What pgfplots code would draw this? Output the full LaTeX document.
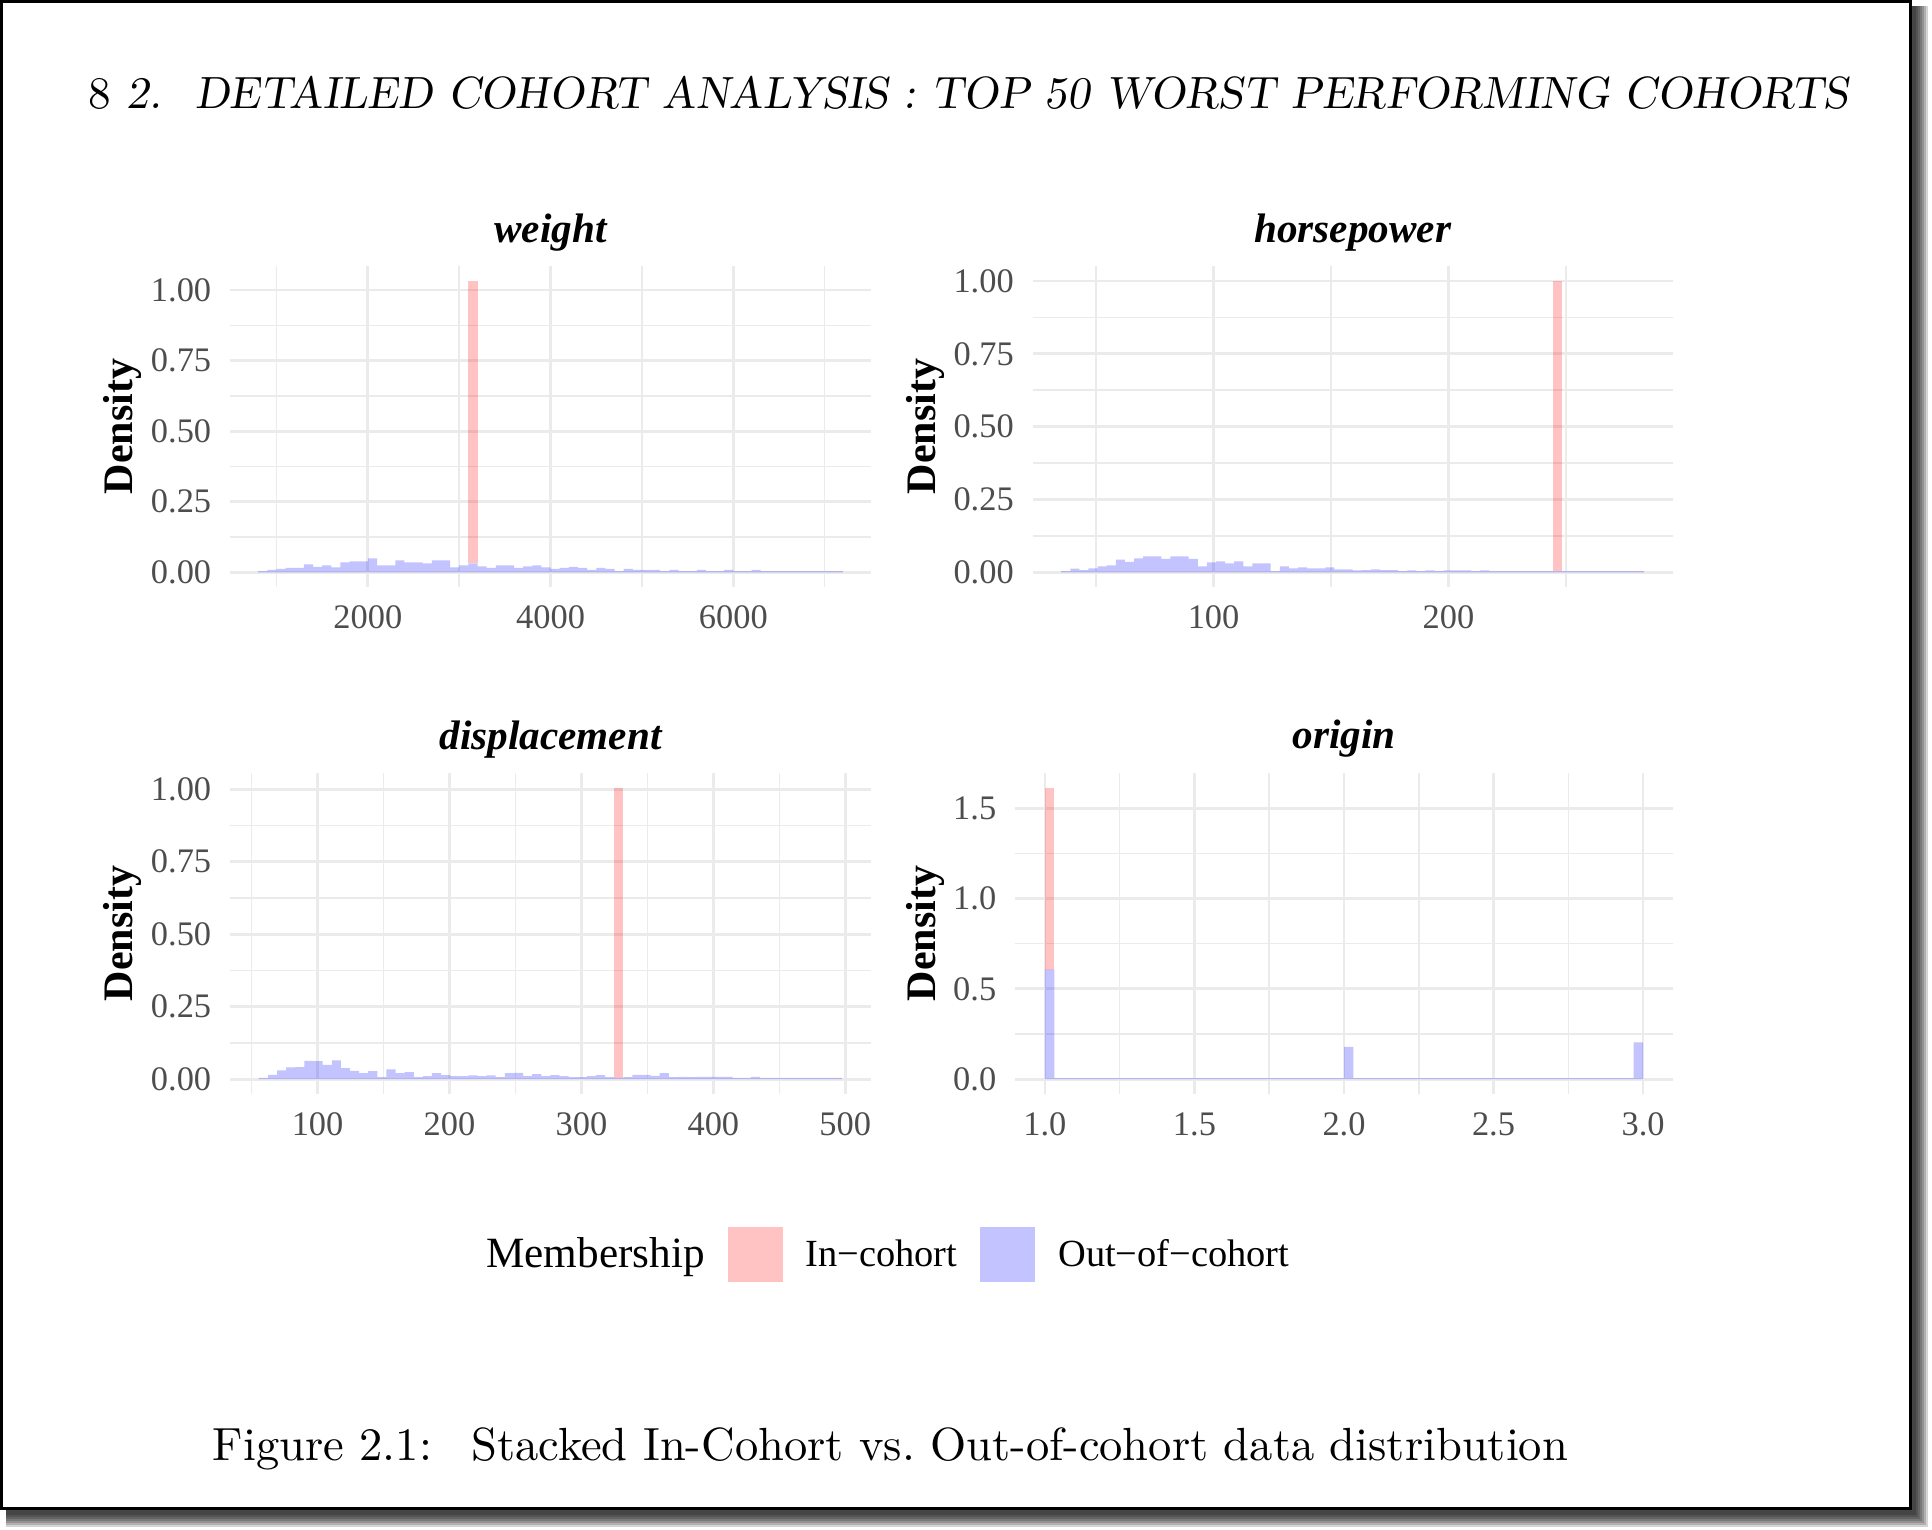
\documentclass[border=0pt]{standalone}
\usepackage{pgfplots}
\pgfplotsset{compat=1.18}
\usepackage{fontspec}
\usepackage{graphicx}
\newfontfamily\lib{Liberation Serif}
\definecolor{grid92}{RGB}{235,235,235}
\definecolor{tickgray}{RGB}{77,77,77}

\pgfplotsset{
  panel/.style={
    scale only axis,
    anchor=north west,
    axis line style={draw=none},
    tick style={draw=none},
    major tick length=0pt, minor tick length=0pt,
    grid=both,
    major grid style={grid92, line width=0.7pt},
    minor grid style={grid92, line width=0.37pt},
    every tick label/.append style={inner sep=0pt, text=tickgray, font=\lib\fontsize{8.6}{10}\selectfont},
    xticklabel style={anchor=north, yshift=-4.5pt},
    yticklabel style={anchor=east, xshift=-4.5pt},
    title style={at={(0.5,1)}, anchor=base, yshift=0pt, inner sep=0pt,
      font=\lib\fontsize{10.3}{12}\selectfont\bfseries\itshape},
    ylabel={Density},
  },
  dens/.style={every axis y label/.style={at={(axis description cs:0,0.5)}, xshift=-#1,
      rotate=90, anchor=base, inner sep=0pt, font=\lib\fontsize{10.5}{12}\selectfont\bfseries}},
  outbar/.style={ybar interval, fill=blue, fill opacity=0.235, draw=none, forget plot},
  inbar/.style={fill=red, fill opacity=0.235, draw=none, forget plot},
}

\begin{document}
\begin{tikzpicture}
% page, frame and shadow (1 px = 0.25pt)
\begin{scope}[x=0.25pt,y=-0.25pt]
  \fill[white] (0,0) rectangle (1932,1530);
  \foreach \r in {10,8,6,4,2,0,-2}
    \fill[black,fill opacity=0.17] (6,6) rectangle ({1918+\r},{1517+\r});
  \fill[white] (0,0) rectangle (1910,1509);
  \draw[black,line width=0.75pt] (1.5,1.5) rectangle (1910,1508.5);
  \node[anchor=base west, inner sep=0pt] at (88,108.3)
    {\resizebox{440pt}{!}{8 {\slshape 2.\hspace{0.75em}DETAILED COHORT ANALYSIS : TOP 50 WORST PERFORMING COHORTS}}};
  \node[anchor=base west, inner sep=0pt] at (212,1460.7)
    {\resizebox{338.8pt}{!}{Figure 2.1:\hspace{0.85em}Stacked In-Cohort vs.\ Out-of-cohort data distribution}};
\end{scope}

% ---------------- weight ----------------
\begin{axis}[panel, dens=24.3pt,
  at={(57.5pt,-66.6pt)}, width=160.25pt, height=80.125pt,
  title={weight},
  xmin=491, xmax=7507, ymin=-0.0516, ymax=1.0836,
  xtick={2000,4000,6000}, xticklabels={2000,4000,6000},
  minor xtick={1000,3000,5000,7000},
  ytick={0,0.25,0.5,0.75,1}, yticklabels={0.00,0.25,0.50,0.75,1.00},
  minor ytick={0.125,0.375,0.625,0.875},
]
\addplot[outbar] table {
x y
800 0.0047
900 0.0083
1000 0.0118
1100 0.0154
1200 0.0154
1300 0.0284
1400 0.0189
1500 0.0248
1600 0.0177
1700 0.0355
1800 0.0390
1900 0.0390
2000 0.0496
2100 0.0248
2200 0.0248
2300 0.0426
2400 0.0355
2500 0.0355
2600 0.0319
2700 0.0426
2800 0.0426
2900 0.0177
3000 0.0248
3100 0.0319
3200 0.0213
3300 0.0154
3400 0.0248
3500 0.0248
3600 0.0154
3700 0.0213
3800 0.0248
3900 0.0177
4000 0.0118
4100 0.0154
4200 0.0189
4300 0.0154
4400 0.0083
4500 0.0154
4600 0.0118
4700 0.0047
4800 0.0118
4900 0.0083
5000 0.0083
5100 0.0083
5200 0.0047
5300 0.0083
5400 0.0040
5500 0.0047
5600 0.0083
5700 0.0040
5800 0.0047
5900 0.0083
6000 0.0047
6100 0.0047
6200 0.0083
6300 0.0040
6400 0.0047
6500 0.0040
6600 0.0040
6700 0.0040
6800 0.0040
6900 0.0040
7000 0.0040
7100 0.0040
7200 0.0040
};
\addplot[inbar] coordinates {(3100,0.0319) (3200,0.0319) (3200,1.032) (3100,1.032)} -- cycle;
\end{axis}

% ---------------- horsepower ----------------
\begin{axis}[panel, dens=24.25pt,
  at={(258.125pt,-66.6pt)}, width=160.125pt, height=80.125pt,
  title={horsepower},
  xmin=22.9, xmax=295.6, ymin=-0.05, ymax=1.05,
  xtick={100,200}, xticklabels={100,200},
  minor xtick={50,150,250},
  ytick={0,0.25,0.5,0.75,1}, yticklabels={0.00,0.25,0.50,0.75,1.00},
  minor ytick={0.125,0.375,0.625,0.875},
]
\addplot[outbar] table {
x y
35.10 0.0040
38.98 0.0126
42.86 0.0080
46.73 0.0137
50.61 0.0206
54.49 0.0240
58.37 0.0435
62.25 0.0355
66.12 0.0480
70.00 0.0550
73.88 0.0550
77.76 0.0458
81.64 0.0550
85.51 0.0550
89.39 0.0458
93.27 0.0206
97.15 0.0344
101.03 0.0378
104.90 0.0309
108.78 0.0378
112.66 0.0206
116.54 0.0309
120.42 0.0309
124.29 0.0040
128.17 0.0206
132.05 0.0137
135.93 0.0172
139.81 0.0137
143.68 0.0137
147.56 0.0172
151.44 0.0103
155.32 0.0103
159.20 0.0069
163.07 0.0080
166.95 0.0103
170.83 0.0080
174.71 0.0080
178.59 0.0040
182.46 0.0069
186.34 0.0040
190.22 0.0069
194.10 0.0040
197.98 0.0069
201.85 0.0069
205.73 0.0069
209.61 0.0040
213.49 0.0069
217.37 0.0040
221.24 0.0040
225.12 0.0040
229.00 0.0040
232.88 0.0040
236.76 0.0040
240.63 0.0040
244.51 0.0040
248.39 0.0040
252.27 0.0040
256.15 0.0040
260.02 0.0040
263.90 0.0040
267.78 0.0040
271.66 0.0040
275.54 0.0040
279.41 0.0040
283.29 0.0040
};
\addplot[inbar] coordinates {(244.51,0.004) (248.39,0.004) (248.39,1.001) (244.51,1.001)} -- cycle;
\end{axis}

% ---------------- displacement ----------------
\begin{axis}[panel, dens=24.3pt,
  at={(57.5pt,-193.25pt)}, width=160.25pt, height=80.175pt,
  title={displacement},
  xmin=33.6, xmax=519.5, ymin=-0.0503, ymax=1.0563,
  xtick={100,200,300,400,500}, xticklabels={100,200,300,400,500},
  minor xtick={50,150,250,350,450},
  ytick={0,0.25,0.5,0.75,1}, yticklabels={0.00,0.25,0.50,0.75,1.00},
  minor ytick={0.125,0.375,0.625,0.875},
  legend columns=-1, legend cell align=left,
  legend style={at={(0.3627,-0.5)}, anchor=west, draw=none, fill=none, inner sep=0pt,
    font=\lib\fontsize{9.6}{11}\selectfont, nodes={inner sep=0pt},
    /tikz/every odd column/.append style={column sep=5.75pt},
    /tikz/every even column/.append style={column sep=5.75pt}},
]
\addlegendimage{empty legend}
\addlegendentry{\fontsize{10.8}{12}\selectfont Membership}
\addlegendimage{legend image code/.code={\fill[red,fill opacity=0.235,draw=none] (0pt,-6.4pt) rectangle (13.75pt,7.35pt);}}
\addlegendentry{In−cohort}
\addlegendimage{legend image code/.code={\fill[blue,fill opacity=0.235,draw=none] (0pt,-6.4pt) rectangle (13.75pt,7.35pt);}}
\addlegendentry{Out−of−cohort}
\addplot[outbar] table {
x y
55.50 0.0040
62.41 0.0150
69.31 0.0300
76.22 0.0404
83.12 0.0415
90.03 0.0634
96.93 0.0623
103.84 0.0496
110.74 0.0646
117.65 0.0380
124.55 0.0288
131.46 0.0208
138.36 0.0277
145.27 0.0069
152.17 0.0334
159.08 0.0208
165.98 0.0242
172.89 0.0069
179.79 0.0104
186.70 0.0208
193.60 0.0138
200.51 0.0104
207.41 0.0104
214.32 0.0127
221.22 0.0104
228.13 0.0127
235.03 0.0069
241.94 0.0208
248.84 0.0219
255.75 0.0104
262.65 0.0173
269.56 0.0104
276.46 0.0138
283.37 0.0104
290.27 0.0069
297.18 0.0069
304.08 0.0104
310.99 0.0138
317.89 0.0069
324.80 0.0040
331.70 0.0069
338.61 0.0150
345.51 0.0150
352.42 0.0115
359.32 0.0208
366.23 0.0069
373.13 0.0081
380.04 0.0069
386.94 0.0081
393.85 0.0081
400.75 0.0081
407.66 0.0081
414.56 0.0046
421.47 0.0046
428.37 0.0081
435.28 0.0046
442.18 0.0046
449.09 0.0046
455.99 0.0040
462.90 0.0046
469.80 0.0046
476.71 0.0040
483.61 0.0040
490.52 0.0040
497.42 0.0040
};
\addplot[inbar] coordinates {(324.80,0.004) (331.70,0.004) (331.70,1.006) (324.80,1.006)} -- cycle;
\end{axis}

% ---------------- origin ----------------
\begin{axis}[panel, dens=19.9pt,
  at={(253.75pt,-193.25pt)}, width=164.5pt, height=80.175pt,
  title={origin},
  xmin=0.9, xmax=3.1, ymin=-0.0808, ymax=1.696,
  xtick={1,1.5,2,2.5,3}, xticklabels={1.0,1.5,2.0,2.5,3.0},
  minor xtick={1.25,1.75,2.25,2.75},
  ytick={0,0.5,1,1.5}, yticklabels={0.0,0.5,1.0,1.5},
  minor ytick={0.25,0.75,1.25},
]
\addplot[outbar] coordinates {(1,0.607) (1.03125,0.006) (2,0.179) (2.03125,0.006) (2.96875,0.203) (3,0.203)};
\addplot[inbar] coordinates {(1,0.607) (1.03125,0.607) (1.03125,1.615) (1,1.615)} -- cycle;
\end{axis}

\pgfresetboundingbox
\path[use as bounding box] (0pt,0pt) rectangle (483pt,-382.5pt);
\end{tikzpicture}
\end{document}
